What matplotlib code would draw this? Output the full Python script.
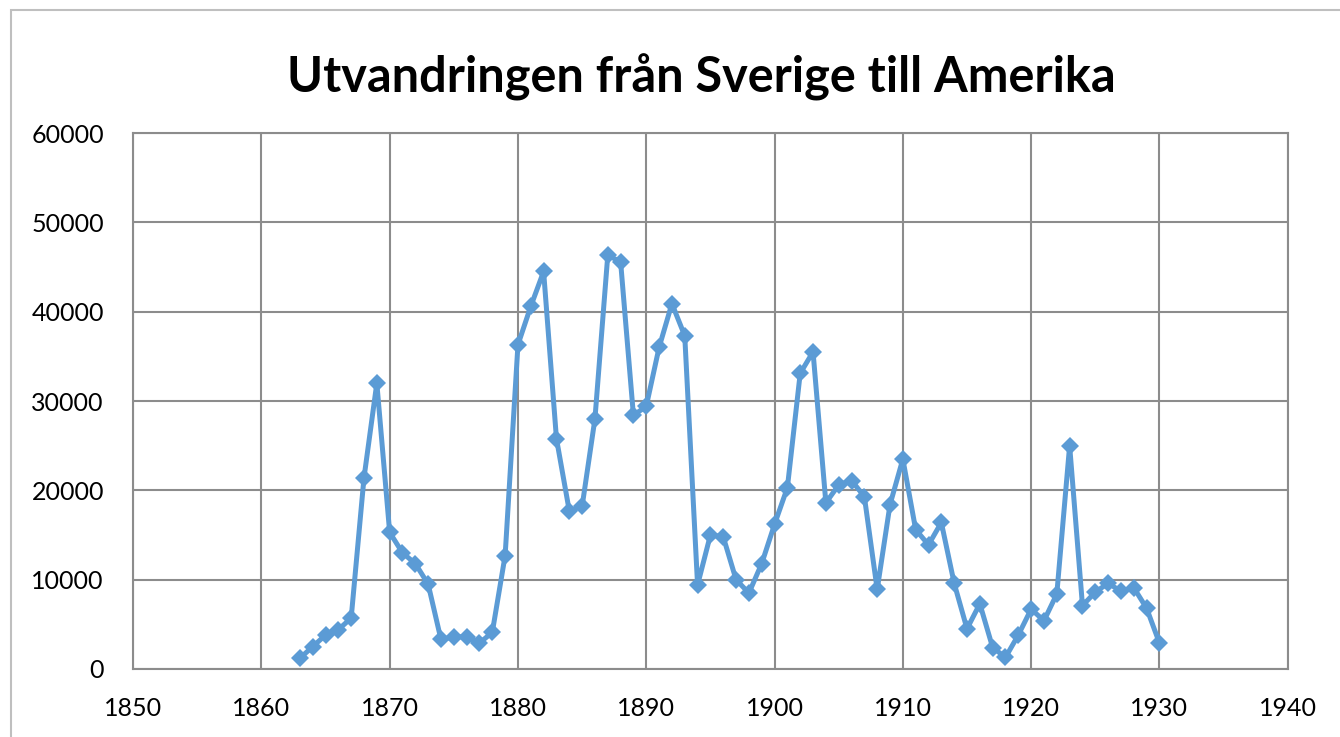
import matplotlib
matplotlib.use("Agg")
import matplotlib.pyplot as plt
from matplotlib.patches import Rectangle

years = list(range(1863, 1931))
emigrants = [
    1200, 2500, 3800, 4400, 5700, 21400, 32000, 15300, 13000, 11800,   # 1863-1872
    9500, 3300, 3600, 3600, 2900, 4100, 12700, 36300, 40600, 44500,    # 1873-1882
    25800, 17700, 18200, 28000, 46300, 45600, 28400, 29400, 36000, 40900,  # 1883-1892
    37300, 9400, 15000, 14800, 10000, 8500, 11800, 16200, 20300, 33100,    # 1893-1902
    35500, 18600, 20600, 21100, 19300, 8900, 18400, 23500, 15600, 13900,   # 1903-1912
    16400, 9600, 4500, 7300, 2400, 1300, 3800, 6700, 5400, 8400,           # 1913-1922
    25000, 7100, 8600, 9600, 8700, 9100, 6800, 2900,                       # 1923-1930
]
x_ticks = list(range(1850, 1941, 10))
y_ticks = list(range(0, 60001, 10000))
title = "Utvandringen från Sverige till Amerika"

plt.rcParams["font.family"] = ["Lato", "DejaVu Sans"]

fig = plt.figure(figsize=(13.4, 7.37), dpi=100)
ax = fig.add_axes([0.0993, 0.0923, 0.8617, 0.7272])

ax.plot(years, emigrants, color="#5b9bd5", linewidth=3.6,
        marker="D", markersize=9.5, markeredgewidth=0, zorder=3)

ax.set_xlim(1850, 1940)
ax.set_ylim(0, 60000)
ax.set_xticks(x_ticks)
ax.set_yticks(y_ticks)
ax.tick_params(length=0, labelsize=18, color="#8c8c8c")
ax.tick_params(axis="y", pad=21)
ax.tick_params(axis="x", pad=20)
ax.grid(True, color="#8c8c8c", linewidth=1.5)
ax.set_axisbelow(True)
for s in ax.spines.values():
    s.set_color("#8c8c8c")
    s.set_linewidth(1.5)

fig.text(0.523, 0.895, title, ha="center", va="center",
         fontsize=35, fontweight="bold")

# outer chart border (runs off the right and bottom edges)
fig.patches.append(Rectangle((0.008, -0.05), 1.05, 1.036, transform=fig.transFigure,
                             fill=False, edgecolor="#bfbfbf", linewidth=1.5))

plt.savefig("out.png", dpi=100)
plt.close()
